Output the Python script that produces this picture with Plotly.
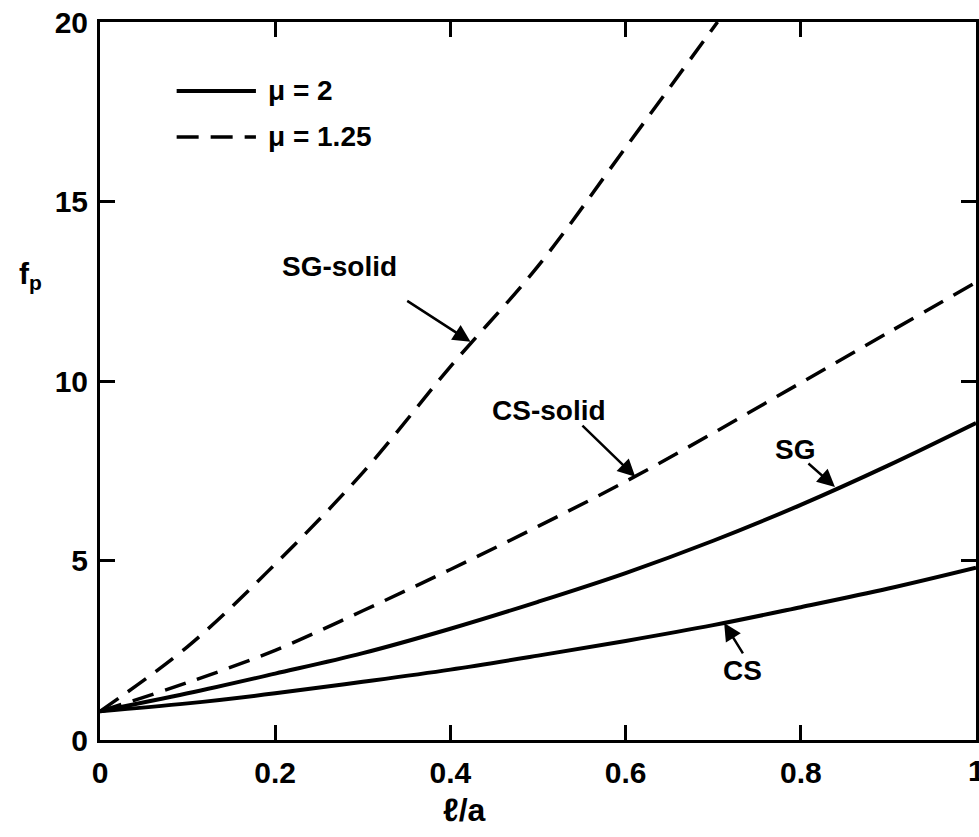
import plotly.graph_objects as go

# Data
x_vals = [0.0, 0.1, 0.2, 0.3, 0.4, 0.5, 0.6, 0.7, 0.8, 0.9, 1.0]
sg_mu2 = [0.8, 1.3, 1.85, 2.42, 3.1, 3.85, 4.65, 5.55, 6.55, 7.65, 8.83]
cs_mu2 = [0.8, 1.02, 1.3, 1.62, 1.96, 2.35, 2.76, 3.2, 3.7, 4.22, 4.8]
cs_solid_mu125 = [0.8, 1.6, 2.5, 3.6, 4.75, 5.95, 7.2, 8.55, 9.95, 11.35, 12.75]
x_sg_solid = [0.0, 0.1, 0.2, 0.3, 0.4, 0.5, 0.6, 0.705]
sg_solid_mu125 = [0.8, 2.6, 4.9, 7.45, 10.4, 13.2, 16.5, 20.0]

x_ticks = [0, 0.2, 0.4, 0.6, 0.8, 1]
x_tick_text = ["0", "0.2", "0.4", "0.6", "0.8", "1"]
y_ticks = [0, 5, 10, 15, 20]

FONT = "Liberation Sans, Arial, sans-serif"

fig = go.Figure()
solid = dict(color="black", width=4, shape="spline", smoothing=1.0)
dashed = dict(color="black", width=3.5, dash="22px,12px", shape="spline", smoothing=1.0)

fig.add_trace(go.Scatter(x=x_sg_solid, y=sg_solid_mu125, mode="lines", line=dashed, name="SG-solid"))
fig.add_trace(go.Scatter(x=x_vals, y=cs_solid_mu125, mode="lines", line=dashed, name="CS-solid"))
fig.add_trace(go.Scatter(x=x_vals, y=sg_mu2, mode="lines", line=solid, name="SG"))
fig.add_trace(go.Scatter(x=x_vals, y=cs_mu2, mode="lines", line=solid, name="CS"))

tickfont = dict(family=FONT, size=30, color="black", weight="bold")
axis_common = dict(showline=True, linewidth=3, linecolor="black", mirror="ticks",
                   ticks="inside", ticklen=15, tickwidth=2.5, tickcolor="black",
                   showgrid=False, zeroline=False, tickfont=tickfont)

fig.update_layout(
    width=979, height=837,
    margin=dict(l=100, r=0, t=22, b=97),
    plot_bgcolor="white", paper_bgcolor="white",
    showlegend=False,
    xaxis=dict(range=[0, 1.0], tickvals=x_ticks, ticktext=x_tick_text, ticklabelstandoff=4, **axis_common),
    yaxis=dict(range=[0, 20], tickvals=y_ticks, ticklabelstandoff=3, **axis_common),
)

# the partially visible "1" tick label at the right edge
fig.add_annotation(x=1.0, y=0, xref="x", yref="y", yshift=-30, text="1", showarrow=False,
                   xanchor="center", yanchor="middle", font=tickfont)

lab_font = dict(family=FONT, size=28, color="black", weight="bold")

# curve labels
labels = [("SG-solid", 0.273, 13.2), ("CS-solid", 0.5125, 9.19), ("SG", 0.793, 8.08), ("CS", 0.734, 1.95)]
for t, lx, ly in labels:
    fig.add_annotation(x=lx, y=ly, text=t, showarrow=False, font=lab_font, xref="x", yref="y",
                       xanchor="center", yanchor="middle")

# arrows (tail -> tip)
arrows = [((0.349, 12.26), (0.423, 11.09)),
          ((0.549, 8.80), (0.611, 7.33)),
          ((0.807, 7.74), (0.839, 7.05)),
          ((0.735, 2.37), (0.7125, 3.26))]
for (tx, ty), (hx, hy) in arrows:
    fig.add_annotation(x=hx, y=hy, ax=tx, ay=ty, xref="x", yref="y", axref="x", ayref="y",
                       text="", showarrow=True, arrowhead=2, arrowsize=1.4, arrowwidth=2.5,
                       arrowcolor="black", standoff=0)

# legend
fig.add_shape(type="line", x0=0.0875, x1=0.178, y0=18.08, y1=18.08, xref="x", yref="y",
              line=dict(color="black", width=4))
fig.add_shape(type="line", x0=0.0875, x1=0.178, y0=16.8, y1=16.8, xref="x", yref="y",
              line=dict(color="black", width=3.5, dash="22px,12px"))
leg_font = dict(family=FONT, size=28, color="black", weight="bold")
fig.add_annotation(x=0.19, y=18.08, text="μ = 2", showarrow=False, xanchor="left", yanchor="middle", font=leg_font)
fig.add_annotation(x=0.19, y=16.8, text="μ = 1.25", showarrow=False, xanchor="left", yanchor="middle", font=leg_font)

# axis titles
fig.add_annotation(x=(30 - 100) / 879, y=(740 - 275) / 718, xref="paper", yref="paper",
                   text="f<sub>p</sub>", showarrow=False, xanchor="center", yanchor="middle",
                   font=dict(family=FONT, size=30, color="black", weight="bold"))
fig.add_annotation(x=(466 - 100) / 879, y=(740 - 810) / 718, xref="paper", yref="paper",
                   text="ℓ/a", showarrow=False, xanchor="center", yanchor="middle",
                   font=dict(family=FONT, size=32, color="black", weight="bold"))

fig.write_html("out.html")
